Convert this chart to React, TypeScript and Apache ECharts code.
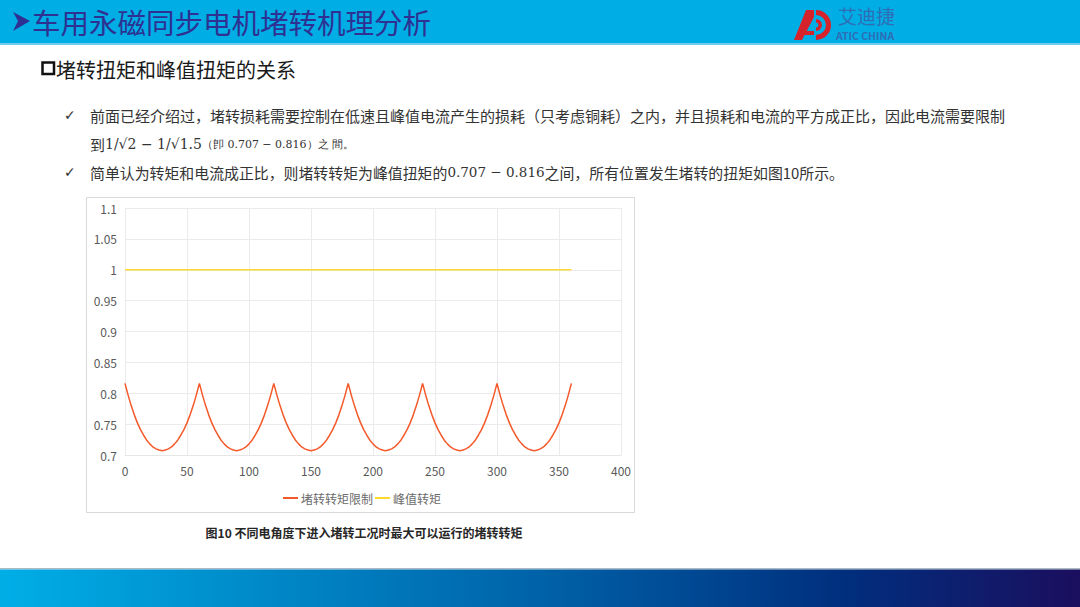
import React, { useEffect, useRef } from "react";
import * as echarts from "echarts";

const angles = [
  0, 2.5, 5, 7.5, 10, 12.5, 15, 17.5, 20, 22.5, 25, 27.5, 30, 32.5, 35, 37.5, 40, 42.5, 45, 47.5, 50, 52.5, 55, 57.5,
  60, 62.5, 65, 67.5, 70, 72.5, 75, 77.5, 80, 82.5, 85, 87.5, 90, 92.5, 95, 97.5, 100, 102.5, 105, 107.5, 110, 112.5, 115, 117.5,
  120, 122.5, 125, 127.5, 130, 132.5, 135, 137.5, 140, 142.5, 145, 147.5, 150, 152.5, 155, 157.5, 160, 162.5, 165, 167.5, 170, 172.5, 175, 177.5,
  180, 182.5, 185, 187.5, 190, 192.5, 195, 197.5, 200, 202.5, 205, 207.5, 210, 212.5, 215, 217.5, 220, 222.5, 225, 227.5, 230, 232.5, 235, 237.5,
  240, 242.5, 245, 247.5, 250, 252.5, 255, 257.5, 260, 262.5, 265, 267.5, 270, 272.5, 275, 277.5, 280, 282.5, 285, 287.5, 290, 292.5, 295, 297.5,
  300, 302.5, 305, 307.5, 310, 312.5, 315, 317.5, 320, 322.5, 325, 327.5, 330, 332.5, 335, 337.5, 340, 342.5, 345, 347.5, 350, 352.5, 355, 357.5,
  360,
];
const stallTorque = [
  0.816, 0.797, 0.780, 0.765, 0.752, 0.741, 0.732, 0.724, 0.718, 0.713, 0.710, 0.708, 0.707, 0.708, 0.710, 0.713, 0.718, 0.724, 0.732, 0.741, 0.752, 0.765, 0.780, 0.797,
  0.816, 0.797, 0.780, 0.765, 0.752, 0.741, 0.732, 0.724, 0.718, 0.713, 0.710, 0.708, 0.707, 0.708, 0.710, 0.713, 0.718, 0.724, 0.732, 0.741, 0.752, 0.765, 0.780, 0.797,
  0.816, 0.797, 0.780, 0.765, 0.752, 0.741, 0.732, 0.724, 0.718, 0.713, 0.710, 0.708, 0.707, 0.708, 0.710, 0.713, 0.718, 0.724, 0.732, 0.741, 0.752, 0.765, 0.780, 0.797,
  0.816, 0.797, 0.780, 0.765, 0.752, 0.741, 0.732, 0.724, 0.718, 0.713, 0.710, 0.708, 0.707, 0.708, 0.710, 0.713, 0.718, 0.724, 0.732, 0.741, 0.752, 0.765, 0.780, 0.797,
  0.816, 0.797, 0.780, 0.765, 0.752, 0.741, 0.732, 0.724, 0.718, 0.713, 0.710, 0.708, 0.707, 0.708, 0.710, 0.713, 0.718, 0.724, 0.732, 0.741, 0.752, 0.765, 0.780, 0.797,
  0.816, 0.797, 0.780, 0.765, 0.752, 0.741, 0.732, 0.724, 0.718, 0.713, 0.710, 0.708, 0.707, 0.708, 0.710, 0.713, 0.718, 0.724, 0.732, 0.741, 0.752, 0.765, 0.780, 0.797,
  0.816,
];
const peakAngles = [0, 360];
const peakTorque = [1, 1];
const seriesNames = ["堵转转矩限制", "峰值转矩"];

const title = "车用永磁同步电机堵转机理分析";
const subTitle = "堵转扭矩和峰值扭矩的关系";
const bullet1a = "前面已经介绍过，堵转损耗需要控制在低速且峰值电流产生的损耗（只考虑铜耗）之内，并且损耗和电流的平方成正比，因此电流需要限制";
const caption = "图10 不同电角度下进入堵转工况时最大可以运行的堵转转矩";

const CJK = '"Noto Sans CJK SC", "Noto Sans", sans-serif';
const SERIF = '"DejaVu Serif", "Liberation Serif", serif';

export default function App() {
  const ref = useRef<HTMLDivElement>(null);
  useEffect(() => {
    if (!ref.current) return;
    const chart = echarts.init(ref.current, null, { renderer: "svg" });
    const option: any = {
      animation: false,
      backgroundColor: "#ffffff",
      textStyle: { fontFamily: CJK },
      grid: { left: 125, right: 459, top: 208, bottom: 152, containLabel: false },
      xAxis: {
        type: "value",
        min: 0,
        max: 400,
        interval: 50,
        axisLine: { show: true, lineStyle: { color: "#E6E6E6" } },
        axisTick: { show: false },
        axisLabel: { color: "#595959", fontSize: 12, margin: 9, fontFamily: CJK },
        splitLine: { show: true, lineStyle: { color: "#EBEBEB" } },
      },
      yAxis: {
        type: "value",
        min: 0.7,
        max: 1.1,
        interval: 0.05,
        axisLine: { show: false },
        axisTick: { show: false },
        axisLabel: { color: "#595959", fontSize: 12, margin: 8, fontFamily: CJK },
        splitLine: { show: true, lineStyle: { color: "#EBEBEB" } },
      },
      legend: {
        left: 277,
        top: 487,
        itemWidth: 15,
        itemHeight: 2,
        itemGap: 1,
        textStyle: { color: "#6B6B6B", fontSize: 12, fontFamily: CJK, padding: [0, 0, 0, -2] },
        data: seriesNames,
      },
      series: [
        {
          name: seriesNames[0],
          type: "line",
          symbol: "none",
          smooth: false,
          lineStyle: { color: "#F4592A", width: 1.5 },
          itemStyle: { color: "#F4592A" },
          data: angles.map((a, i) => [a, stallTorque[i]]),
        },
        {
          name: seriesNames[1],
          type: "line",
          symbol: "none",
          lineStyle: { color: "#FFD92E", width: 1.6 },
          itemStyle: { color: "#FFD92E" },
          data: peakAngles.map((a, i) => [a, peakTorque[i]]),
        },
      ],
      graphic: [
        // header
        { type: "rect", shape: { x: 0, y: 0, width: 1080, height: 44 }, style: { fill: "#00ADE5" }, z: -10 },
        { type: "rect", shape: { x: 0, y: 43, width: 1080, height: 2 }, style: { fill: "#6FCDEE" }, z: -10 },
        {
          type: "polygon",
          shape: { points: [[13, 12], [30, 21], [13, 31], [18, 21]] },
          style: { fill: "#2E3192" },
        },
        {
          type: "text",
          x: 32,
          y: 21,
          style: {
            text: title,
            fill: "#2E3192",
            font: `28.5px ${CJK}`,
            textVerticalAlign: "middle",
          },
        },
        // logo
        {
          type: "polygon",
          shape: { points: [[794, 40], [806, 10], [814, 10], [814, 17], [802, 40]] },
          style: { fill: "#D6222A" },
        },
        {
          type: "polygon",
          shape: { points: [[801, 31], [814, 31], [814, 35], [799, 35]] },
          style: { fill: "#D6222A" },
        },
        {
          type: "sector",
          shape: { cx: 816, cy: 25, r: 15, r0: 10, startAngle: -Math.PI / 2, endAngle: Math.PI / 2, clockwise: true },
          style: { fill: "#D6222A" },
        },
        {
          type: "sector",
          shape: { cx: 816, cy: 25, r: 6, r0: 2.5, startAngle: -Math.PI / 2, endAngle: Math.PI / 2, clockwise: true },
          style: { fill: "#D6222A" },
        },
        {
          type: "text",
          x: 838,
          y: 15,
          style: { text: "艾迪捷", fill: "#2F6DB5", font: `19px ${CJK}`, textVerticalAlign: "middle" },
        },
        {
          type: "text",
          x: 836,
          y: 35,
          style: { text: "ATIC CHINA", fill: "#2F6DB5", font: `bold 10.5px ${CJK}`, textVerticalAlign: "middle" },
        },
        // subheading
        {
          type: "rect",
          shape: { x: 42.5, y: 62.5, width: 11.5, height: 11.5 },
          style: { fill: "none", stroke: "#111111", lineWidth: 2.5 },
        },
        {
          type: "text",
          x: 56,
          y: 69,
          style: { text: subTitle, fill: "#1A1A1A", font: `20px ${CJK}`, textVerticalAlign: "middle" },
        },
        // bullets
        {
          type: "text",
          x: 64,
          y: 115,
          style: { text: "✓", fill: "#333333", font: `14px "DejaVu Sans", sans-serif`, textVerticalAlign: "middle" },
        },
        {
          type: "text",
          x: 90,
          y: 115,
          style: { text: bullet1a, fill: "#333333", font: `15px ${CJK}`, textVerticalAlign: "middle" },
        },
        {
          type: "text",
          x: 90,
          y: 144,
          style: {
            text: "{a|到}{m|1/√2 − 1/√1.5}{s|（卽 0.707 − 0.816）之 間。}",
            textVerticalAlign: "middle",
            rich: {
              a: { fill: "#333333", font: `15px ${CJK}` },
              m: { fill: "#333333", font: `14px ${SERIF}` },
              s: { fill: "#333333", font: `11px ${SERIF}` },
            },
          },
        },
        {
          type: "text",
          x: 64,
          y: 172,
          style: { text: "✓", fill: "#333333", font: `14px "DejaVu Sans", sans-serif`, textVerticalAlign: "middle" },
        },
        {
          type: "text",
          x: 90,
          y: 172,
          style: {
            text: "{a|简单认为转矩和电流成正比，则堵转转矩为峰值扭矩的}{m|0.707 − 0.816}{a|之间，所有位置发生堵转的扭矩如图10所示。}",
            textVerticalAlign: "middle",
            rich: {
              a: { fill: "#333333", font: `14.9px ${CJK}` },
              m: { fill: "#333333", font: `13.5px ${SERIF}` },
            },
          },
        },
        // chart frame
        {
          type: "rect",
          shape: { x: 86.5, y: 197.5, width: 548, height: 315 },
          style: { fill: "none", stroke: "#D9D9D9", lineWidth: 1 },
          z: -5,
        },
        // caption
        {
          type: "text",
          x: 364,
          y: 532,
          style: {
            text: caption,
            fill: "#262626",
            font: `bold 12px ${CJK}`,
            textAlign: "center",
            textVerticalAlign: "middle",
          },
        },
        // footer band
        { type: "rect", shape: { x: 0, y: 568, width: 1080, height: 1.5 }, style: { fill: "#A9B9C6" } },
        {
          type: "rect",
          shape: { x: 0, y: 569.5, width: 1080, height: 38 },
          style: {
            fill: new echarts.graphic.LinearGradient(0, 0, 1, 0, [
              { offset: 0, color: "#00AEE6" },
              { offset: 0.25, color: "#0088C8" },
              { offset: 0.5, color: "#0062A8" },
              { offset: 0.78, color: "#002F7E" },
              { offset: 1, color: "#1B0E5E" },
            ]),
          },
        },
      ],
    };
    chart.setOption(option);
    return () => chart.dispose();
  }, []);
  return (
    <div
      ref={ref}
      style={{ position: "fixed", left: 0, top: 0, width: 1080, height: 607 }}
    />
  );
}
